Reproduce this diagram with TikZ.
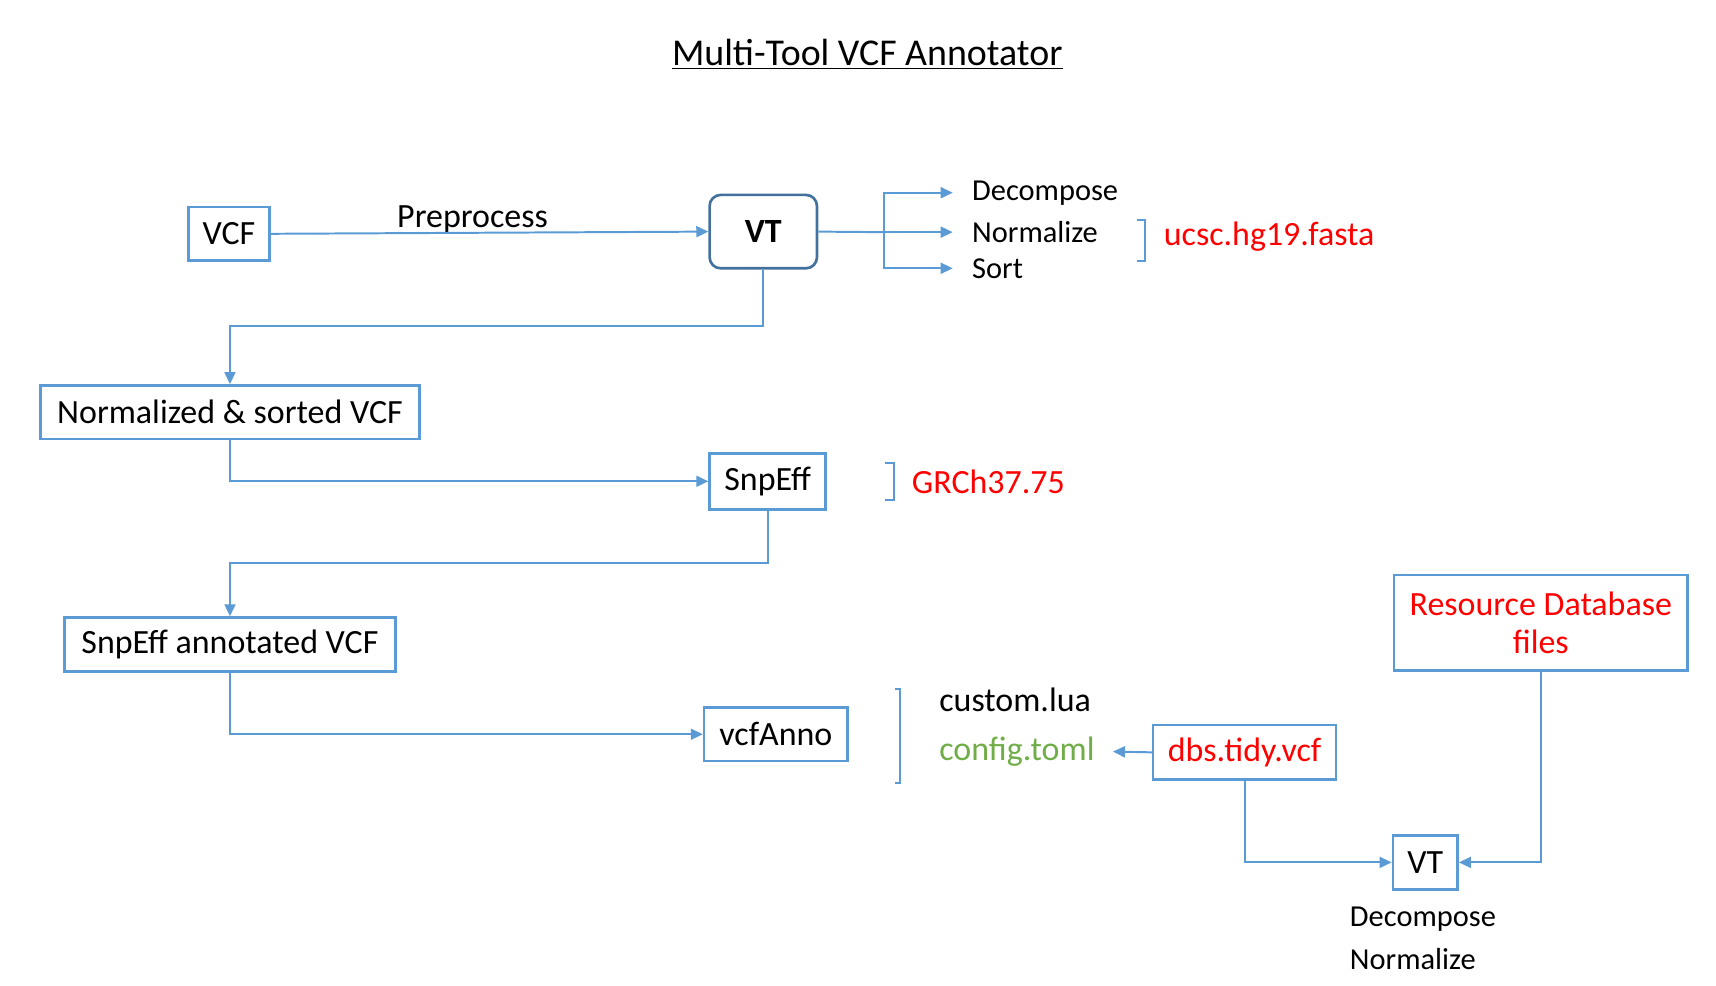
\documentclass[tikz,border=0pt]{standalone}
\usepackage{fontspec}
\setmainfont{Carlito}
\usetikzlibrary{arrows.meta,calc}

\definecolor{boxblue}{RGB}{91,155,213}
\definecolor{vtblue}{RGB}{65,113,156}
\definecolor{refred}{RGB}{255,0,0}
\definecolor{cfggreen}{RGB}{112,173,71}

\tikzset{every picture/.style={line width=0.75pt}}
\tikzset{
  txt/.style={font=\fontsize{15.5}{18.5}\selectfont},
  box/.style={txt, draw=boxblue, line width=1.2pt, inner sep=0pt},
  vtbox/.style={box, draw=vtblue, rounded corners=5pt},
  lbl/.style={txt, inner sep=0pt, anchor=west},
  steplbl/.style={lbl, font=\fontsize{13.9}{16.5}\selectfont},
  conn/.style={draw=boxblue, line width=0.9pt, -{Triangle[length=5.5pt,width=5pt]}},
  brk/.style={draw=boxblue, line width=0.9pt}
}

\begin{document}
\begin{tikzpicture}[x=0.5pt,y=0.5pt,yscale=-1,xscale=1]
\useasboundingbox (0,0) rectangle (1567,900);

% Title
\node [txt, font=\fontsize{17.3}{20}\selectfont] (title) at (792,50) {\underline{Multi-Tool VCF Annotator}};

% Boxes
\node [box, minimum width=37pt, minimum height=24.5pt] (vcf) at (209,213.5) {VCF};
\node [vtbox, minimum width=49pt, minimum height=33.5pt] (vt) at (697,211.5) {\textbf{VT}};
\node [box, minimum width=173pt, minimum height=24.5pt] (normvcf) at (210,376.5) {Normalized \& sorted VCF};
\node [box, minimum width=53pt, minimum height=25.5pt] (snpeff) at (701,439.5) {SnpEff};
\node [box, minimum width=151pt, minimum height=24.5pt] (snpvcf) at (210,588.5) {SnpEff annotated VCF};
\node [box, minimum width=65.5pt, minimum height=24.5pt] (vcfanno) at (708.5,670.5) {vcfAnno};
\node [box, minimum width=83.5pt, minimum height=25pt, text=refred] (dbs) at (1136.5,687) {dbs.tidy.vcf};
\node [box, minimum width=29.5pt, minimum height=24.5pt] (vttwo) at (1301.5,787.5) {VT};
\node [box, minimum width=134pt, minimum height=43.5pt, text=refred, align=center] (resdb) at (1407,568.5) {Resource Database\\[-1pt]files};

% Text labels
\node [lbl] (pre) at (362,200) {Preprocess};
\node [steplbl] (dec) at (887,176) {Decompose};
\node [steplbl] (norm) at (887,212) {Normalize};
\node [steplbl] (sort) at (887,245) {Sort};
\node [lbl, text=refred] (ucsc) at (1062,216) {ucsc.hg19.fasta};
\node [lbl, text=refred] (grch) at (832,440) {GRCh37.75};
\node [lbl] (lua) at (857,639) {custom.lua};
\node [lbl, text=cfggreen] (cfg) at (857,686) {config.toml};
\node [steplbl] (dectwo) at (1232,839) {Decompose};
\node [steplbl] (normtwo) at (1232,876) {Normalize};

% Connectors
\coordinate (split) at (807,212);
\coordinate (jone) at (697,298);
\coordinate (jtwo) at (701,514);

\draw [conn] (vcf.east) -- (vt.west);
\draw [brk] (vt.east) -- (split);
\draw [conn, shorten >=8.5pt] (split) |- (dec.west);
\draw [conn, shorten >=8.5pt] (split) -- (norm.west);
\draw [conn, shorten >=8.5pt] (split) |- (sort.west);
\draw [conn] (vt.south) -- (jone) -| (normvcf.north);
\draw [conn] (normvcf.south) |- (snpeff.west);
\draw [conn] (snpeff.south) -- (jtwo) -| (snpvcf.north);
\draw [conn] (snpvcf.south) |- (vcfanno.west);
\draw [conn, shorten >=8pt] (dbs.west) -- (cfg.east);
\draw [conn] (dbs.south) |- (vttwo.west);
\draw [conn] (resdb.south) |- (vttwo.east);

% Brackets
\draw [brk] (1038,201) -- (1046,201) -- (1046,238) -- (1038,238);
\draw [brk] (808,423) -- (816,423) -- (816,457) -- (808,457);
\draw [brk] (817,629) -- (822,629) -- (822,715) -- (817,715);

\end{tikzpicture}
\end{document}
